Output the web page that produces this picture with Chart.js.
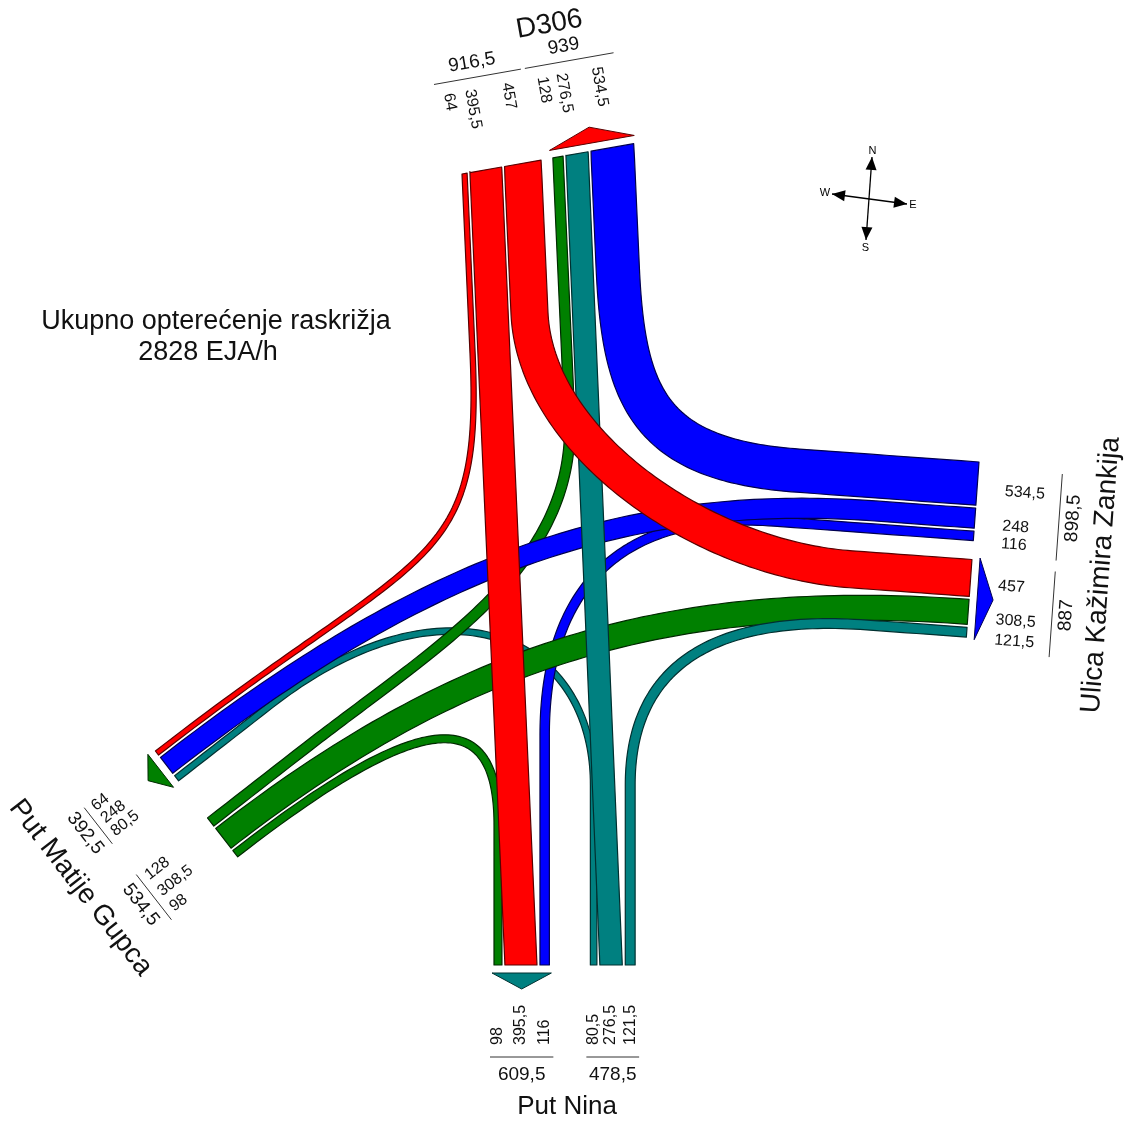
<!DOCTYPE html>
<html lang="hr">
<head>
<meta charset="utf-8">
<title>Opterećenje raskrižja</title>
<script src="https://cdn.jsdelivr.net/npm/chart.js@4.4.1/dist/chart.umd.min.js"></script>
<style>
  html, body { margin: 0; padding: 0; background: #fff; }
  canvas { display: block; }
</style>
</head>
<body>
<canvas id="flowChart" width="1131" height="1121"></canvas>
<script>
// legs of the intersection
const legNames = { N: 'D306', E: 'Ulica Kažimira Zankija', S: 'Put Nina', W: 'Put Matije Gupca' };

// EJA/h by origin leg, each list ordered by destination
const fromNorth = [64, 395.5, 457];      // -> W, S, E
const fromEast = [534.5, 248, 116];      // -> N, W, S
const fromSouth = [80.5, 276.5, 121.5];  // -> W, N, E
const fromWest = [128, 308.5, 98];       // -> N, E, S

const titleText = 'Ukupno opterećenje raskrižja';
const unitText = 'EJA/h';

const FLOW = {
    NW: fromNorth[0], NS: fromNorth[1], NE: fromNorth[2],
    EN: fromEast[0], EW: fromEast[1], ES: fromEast[2],
    SW: fromSouth[0], SN: fromSouth[1], SE: fromSouth[2],
    WN: fromWest[0], WE: fromWest[1], WS: fromWest[2]
};

// colour of the leg the traffic comes from
const COLORS = { N: '#ff0000', E: '#0000ff', S: '#008080', W: '#008000' };
const EDGE = { N: '#5a0000', E: '#000050', S: '#003030', W: '#002a00' };

const K = 0.081;       // band width, px per EJA/h
const LANE_GAP = 3;

// leg geometry: o = start of the lane line, u = along the lanes, dir = into the junction
const LEGS = {
    N: { o: [462, 174], u: [0.985, -0.174], dir: [0.0446, 0.999], gap: 12,
         groups: [['from', ['W', 'S', 'E']], ['to', ['W', 'S', 'E']]] },
    E: { o: [979, 462], u: [-0.072, 0.997], dir: [-0.997, -0.072], gap: 19,
         groups: [['from', ['N', 'W', 'S']], ['to', ['N', 'W', 'S']]] },
    S: { o: [494, 965], u: [1, 0], dir: [0, -1], gap: 41,
         groups: [['to', ['W', 'N', 'E']], ['from', ['W', 'N', 'E']]] },
    W: { o: [155.4, 751], u: [0.614, 0.789], dir: [0.789, -0.614], gap: 47,
         groups: [['to', ['N', 'E', 'S']], ['from', ['N', 'E', 'S']]] }
};

// label placement in each leg's frame (u along lanes, v outward)
const LABELS = {
    N: { laneV: 82, laneShift: -2, lineV: 93, lineShift: -8, totV: 108, totShift: -11, name: [112, 132], size: 28 },
    E: { laneV: 28, laneShift: 6, lineV: 84, lineShift: 10, totV: 98, totShift: 10, name: [104, 130], size: 28 },
    S: { laneV: 80, laneShift: 0, lineV: 92, lineShift: 0, totV: 110, totShift: 0, name: [73, 142], size: 26 },
    W: { laneV: 84, laneShift: 4, lineV: 91, lineShift: 5, totV: 106, totShift: 3, name: [62, 143], size: 28 }
};

// route shape: straight lead-in, cubic handles, straight lead-out
const ROUTE = {
    NW: [180, 220, 340, 0], NS: [0, 0, 0, 0], NE: [150, 130, 150, 120],
    EN: [180, 150, 130, 120], EW: [100, 250, 330, 0], ES: [200, 170, 130, 230],
    SW: [180, 150, 220, 120], SN: [0, 0, 0, 0], SE: [180, 80, 200, 100],
    WN: [120, 170, 150, 260], WE: [0, 300, 300, 0], WS: [0, 240, 120, 140]
};

// bottom to top
const DRAW_ORDER = ['SW', 'WS', 'ES', 'WN', 'NW', 'EW', 'WE', 'SE', 'SN', 'NS', 'NE', 'EN'];

const FONT = '"Liberation Sans", Arial, sans-serif';
const fmt = v => String(v).replace('.', ',');

// lane positions along every leg
Object.keys(LEGS).forEach(key => {
    const leg = LEGS[key];
    let s = 0;
    leg.v = [leg.u[1], -leg.u[0]];
    if (leg.v[0] * leg.dir[0] + leg.v[1] * leg.dir[1] > 0) leg.v = [-leg.v[0], -leg.v[1]];
    leg.lanes = {};
    leg.laneGroups = leg.groups.map(([kind, others], gi) => {
        if (gi > 0) s += leg.gap;
        const start = s;
        let total = 0;
        const lanes = others.map((k, i) => {
            if (i > 0) s += LANE_GAP;
            const flow = kind === 'from' ? key + k : k + key;
            const w = FLOW[flow] * K;
            const lane = { flow, value: FLOW[flow], s0: s, s1: s + w, c: s + w / 2 };
            leg.lanes[flow] = lane;
            total += FLOW[flow];
            s += w;
            return lane;
        });
        return { kind, start, end: s, lanes, total };
    });
});

const at = (leg, u, v) => [leg.o[0] + leg.u[0] * u + leg.v[0] * v, leg.o[1] + leg.u[1] * u + leg.v[1] * v];
const lerp = (a, b, t) => [a[0] + (b[0] - a[0]) * t, a[1] + (b[1] - a[1]) * t];
function cubic(p0, p1, p2, p3, t) {
    const m = 1 - t;
    return [m * m * m * p0[0] + 3 * m * m * t * p1[0] + 3 * m * t * t * p2[0] + t * t * t * p3[0],
            m * m * m * p0[1] + 3 * m * m * t * p1[1] + 3 * m * t * t * p2[1] + t * t * t * p3[1]];
}

function routePoints(f) {
    const lo = LEGS[f[0]], ld = LEGS[f[1]];
    const A = at(lo, lo.lanes[f].c, 0), D = at(ld, ld.lanes[f].c, 0);
    const [L1, h1, h2, L2] = ROUTE[f];
    const B = [A[0] + lo.dir[0] * L1, A[1] + lo.dir[1] * L1];
    const C = [D[0] + ld.dir[0] * L2, D[1] + ld.dir[1] * L2];
    const B1 = [B[0] + lo.dir[0] * h1, B[1] + lo.dir[1] * h1];
    const C1 = [C[0] + ld.dir[0] * h2, C[1] + ld.dir[1] * h2];
    const pts = [A];
    const push = p => {
        const q = pts[pts.length - 1];
        if (Math.hypot(p[0] - q[0], p[1] - q[1]) > 0.8) pts.push(p);
    };
    for (let i = 1; i <= 10; i++) push(lerp(A, B, i / 10));
    for (let i = 1; i <= 90; i++) push(cubic(B, B1, C1, C, i / 90));
    for (let i = 1; i <= 10; i++) push(lerp(C, D, i / 10));
    pts[pts.length - 1] = D;
    return pts;
}

function drawBand(ctx, px, f) {
    const pts = routePoints(f);
    const w = FLOW[f] * K;
    const left = [], right = [];
    pts.forEach((p, i) => {
        const a = pts[Math.max(0, i - 1)], b = pts[Math.min(pts.length - 1, i + 1)];
        const l = Math.hypot(b[0] - a[0], b[1] - a[1]) || 1;
        const nx = -(b[1] - a[1]) / l, ny = (b[0] - a[0]) / l;
        left.push([p[0] + nx * w / 2, p[1] + ny * w / 2]);
        right.push([p[0] - nx * w / 2, p[1] - ny * w / 2]);
    });
    // put both ends on the leg's lane line
    [[f[0], 0], [f[1], pts.length - 1]].forEach(([key, i]) => {
        const leg = LEGS[key], lane = leg.lanes[f];
        const e0 = at(leg, lane.s0, 0), e1 = at(leg, lane.s1, 0);
        const d0 = Math.hypot(e0[0] - left[i][0], e0[1] - left[i][1]);
        const d1 = Math.hypot(e1[0] - left[i][0], e1[1] - left[i][1]);
        if (d0 < d1) { left[i] = e0; right[i] = e1; } else { left[i] = e1; right[i] = e0; }
    });
    const poly = left.concat(right.reverse()).map(px);
    ctx.beginPath();
    poly.forEach((p, i) => i ? ctx.lineTo(p[0], p[1]) : ctx.moveTo(p[0], p[1]));
    ctx.closePath();
    ctx.fillStyle = COLORS[f[0]];
    ctx.fill();
    ctx.lineJoin = 'round';
    ctx.lineWidth = 1.2;
    ctx.strokeStyle = EDGE[f[0]];
    ctx.stroke();
}

function text(ctx, str, p, angle, size, align) {
    ctx.save();
    ctx.translate(p[0], p[1]);
    ctx.rotate(angle);
    ctx.font = size + 'px ' + FONT;
    ctx.fillStyle = '#111';
    ctx.textAlign = align || 'center';
    ctx.textBaseline = 'middle';
    ctx.fillText(str, 0, 0);
    ctx.restore();
}

function readable(vec) {
    let a = Math.atan2(vec[1], vec[0]);
    if (Math.cos(a) < -0.01) a += Math.PI;
    return a;
}

function drawLegLabels(ctx, px, key) {
    const leg = LEGS[key], lb = LABELS[key];
    const inward = [-leg.v[0], -leg.v[1]];
    const laneAngle = readable(inward);
    const alongAngle = readable(leg.u);
    leg.laneGroups.forEach(g => {
        g.lanes.forEach(l => {
            text(ctx, fmt(l.value), px(at(leg, l.c + lb.laneShift, lb.laneV)), laneAngle, 16, 'left');
        });
        const a = px(at(leg, g.start + lb.lineShift - 4, lb.lineV));
        const b = px(at(leg, g.end + lb.lineShift + 4, lb.lineV));
        ctx.beginPath();
        ctx.moveTo(a[0], a[1]);
        ctx.lineTo(b[0], b[1]);
        ctx.lineWidth = 1;
        ctx.strokeStyle = '#333';
        ctx.stroke();
        text(ctx, fmt(g.total), px(at(leg, (g.start + g.end) / 2 + lb.totShift, lb.totV)), alongAngle, 19);
    });
    text(ctx, legNames[key], px(at(leg, lb.name[0], lb.name[1])), alongAngle, lb.size);

    // direction arrow over the lanes that leave the junction on this leg
    const g = leg.laneGroups.find(gr => gr.kind === 'to');
    const p1 = px(at(leg, g.start - 2, 8)), p2 = px(at(leg, g.end + 2, 8));
    const tip = px(at(leg, (g.start + g.end) / 2, 24));
    ctx.beginPath();
    ctx.moveTo(p1[0], p1[1]);
    ctx.lineTo(p2[0], p2[1]);
    ctx.lineTo(tip[0], tip[1]);
    ctx.closePath();
    ctx.fillStyle = COLORS[key];
    ctx.fill();
    ctx.lineWidth = 1;
    ctx.strokeStyle = EDGE[key];
    ctx.stroke();
}

function drawCompass(ctx, px) {
    const c = [869, 199];
    const tips = { N: [872, 157], S: [866, 240], W: [832, 194], E: [907, 204] };
    const gaps = { N: 6, S: 8, W: 7, E: 6 };
    ctx.strokeStyle = '#000';
    ctx.fillStyle = '#000';
    ctx.lineWidth = 1.3;
    [['N', 'S'], ['W', 'E']].forEach(([a, b]) => {
        const p = px(tips[a]), q = px(tips[b]);
        ctx.beginPath();
        ctx.moveTo(p[0], p[1]);
        ctx.lineTo(q[0], q[1]);
        ctx.stroke();
    });
    Object.keys(tips).forEach(k => {
        const t = tips[k];
        const l = Math.hypot(t[0] - c[0], t[1] - c[1]);
        const d = [(t[0] - c[0]) / l, (t[1] - c[1]) / l];
        const n = [-d[1], d[0]];
        const base = [t[0] - d[0] * 13, t[1] - d[1] * 13];
        const pts = [t, [base[0] + n[0] * 5.5, base[1] + n[1] * 5.5], [base[0] - n[0] * 5.5, base[1] - n[1] * 5.5]].map(px);
        ctx.beginPath();
        ctx.moveTo(pts[0][0], pts[0][1]);
        ctx.lineTo(pts[1][0], pts[1][1]);
        ctx.lineTo(pts[2][0], pts[2][1]);
        ctx.closePath();
        ctx.fill();
        const lp = px([t[0] + d[0] * gaps[k], t[1] + d[1] * gaps[k]]);
        ctx.font = '11px ' + FONT;
        ctx.textAlign = 'center';
        ctx.textBaseline = 'middle';
        ctx.fillText(k, lp[0], lp[1]);
    });
}

const flowPlugin = {
    id: 'intersectionFlows',
    afterDatasetsDraw(chart) {
        const ctx = chart.ctx;
        const xs = chart.scales.x, ys = chart.scales.y;
        const px = p => [xs.getPixelForValue(p[0]), ys.getPixelForValue(p[1])];
        ctx.save();
        DRAW_ORDER.forEach(f => drawBand(ctx, px, f));
        Object.keys(LEGS).forEach(k => drawLegLabels(ctx, px, k));
        drawCompass(ctx, px);
        const total = Object.values(FLOW).reduce((a, b) => a + b, 0);
        text(ctx, titleText, px([216, 322]), 0, 27);
        text(ctx, fmt(total) + ' ' + unitText, px([208, 353]), 0, 27);
        ctx.restore();
    }
};

new Chart(document.getElementById('flowChart').getContext('2d'), {
    type: 'scatter',
    data: { datasets: [{ data: [], pointRadius: 0 }] },
    options: {
        responsive: false,
        animation: false,
        layout: { padding: 0 },
        scales: {
            x: { type: 'linear', min: 0, max: 1131, display: false },
            y: { type: 'linear', min: 0, max: 1121, reverse: true, display: false }
        },
        plugins: { legend: { display: false }, tooltip: { enabled: false } }
    },
    plugins: [flowPlugin]
});
</script>
</body>
</html>
